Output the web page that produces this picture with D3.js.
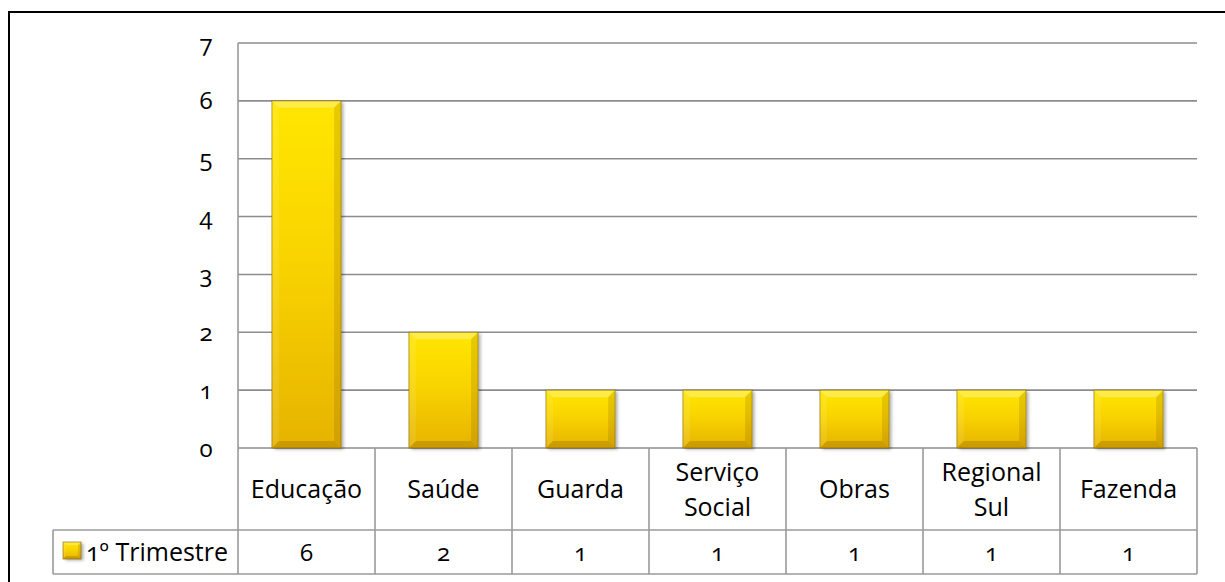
<!DOCTYPE html>
<html>
<head>
<meta charset="utf-8">
<script src="https://cdn.jsdelivr.net/npm/d3@7"></script>
<style>
  html, body { margin: 0; padding: 0; background: #fff; }
  svg { display: block; }
  text { font-family: "Open Sans", "Noto Sans", sans-serif; fill: #000; font-variant-numeric: oldstyle-nums; font-feature-settings: "onum" 1; }
</style>
</head>
<body>
<script>
const categories = ["Educação", "Saúde", "Guarda", "Serviço Social", "Obras", "Regional Sul", "Fazenda"];
const values = [6, 2, 1, 1, 1, 1, 1];
const seriesName = "1º Trimestre";
const yTicks = [0, 1, 2, 3, 4, 5, 6, 7];

(function () {
const W = 1225, H = 582;
const svg = d3.select("body").append("svg").attr("width", W).attr("height", H);

const defs = svg.append("defs");
const grad = defs.append("linearGradient").attr("id", "gold").attr("x1", 0).attr("y1", 0).attr("x2", 0).attr("y2", 1);
grad.append("stop").attr("offset", "0%").attr("stop-color", "#FFE600");
grad.append("stop").attr("offset", "45%").attr("stop-color", "#F9D400");
grad.append("stop").attr("offset", "100%").attr("stop-color", "#E6B300");
const shadow = defs.append("filter").attr("id", "shadow").attr("x", "-20%").attr("y", "-20%").attr("width", "150%").attr("height", "150%");
shadow.append("feDropShadow").attr("dx", 2.5).attr("dy", 1.5).attr("stdDeviation", 1.8).attr("flood-color", "#000").attr("flood-opacity", 0.3);

// outer frame
svg.append("rect").attr("x", 9).attr("y", 12).attr("width", 1240).attr("height", 620)
  .attr("fill", "none").attr("stroke", "#000").attr("stroke-width", 2);

const pLeft = 238, pRight = 1197, pTop = 43, base = 448;
const rowMid = 530, rowBot = 574, legendLeft = 53;

const x = d3.scaleBand().domain(categories).range([pLeft, pRight]).paddingInner(0).paddingOuter(0);
const y = d3.scaleLinear().domain([0, 7]).range([base, pTop]);

// gridlines
svg.append("g").selectAll("line").data(yTicks).join("line")
  .attr("x1", pLeft).attr("x2", pRight)
  .attr("y1", d => y(d)).attr("y2", d => y(d))
  .attr("stroke", "#8c8c8c").attr("stroke-width", 1.6);

// y tick labels
svg.append("g").selectAll("text").data(yTicks).join("text")
  .attr("x", 206).attr("y", d => y(d)).attr("dy", "0.36em")
  .attr("text-anchor", "middle").attr("font-size", 24).text(d => d);

// bevelled bar helper
function bevelBar(g, bx, by, bw, bh, bev) {
  g.append("rect").attr("x", bx).attr("y", by).attr("width", bw).attr("height", bh)
    .attr("fill", "url(#gold)").attr("filter", "url(#shadow)");
  const e = Math.min(bev, bw / 2, bh / 2);
  const poly = (pts, fill) => g.append("polygon").attr("points", pts.map(p => p.join(",")).join(" ")).attr("fill", fill);
  poly([[bx, by], [bx + bw, by], [bx + bw - e, by + e], [bx + e, by + e]], "rgba(255,255,255,0.28)");
  poly([[bx, by], [bx + e, by + e], [bx + e, by + bh - e], [bx, by + bh]], "rgba(255,255,255,0.10)");
  poly([[bx + bw, by], [bx + bw, by + bh], [bx + bw - e, by + bh - e], [bx + bw - e, by + e]], "rgba(120,80,0,0.18)");
  poly([[bx, by + bh], [bx + e, by + bh - e], [bx + bw - e, by + bh - e], [bx + bw, by + bh]], "rgba(120,80,0,0.25)");
  g.append("rect").attr("x", bx).attr("y", by).attr("width", bw).attr("height", bh)
    .attr("fill", "none").attr("stroke", "#7a5a00").attr("stroke-opacity", 0.55).attr("stroke-width", 1);
}

const barW = x.bandwidth() * 0.505;
const bars = svg.append("g");
categories.forEach((c, i) => {
  const g = bars.append("g");
  const bx = x(c) + (x.bandwidth() - barW) / 2;
  bevelBar(g, bx, y(values[i]), barW, y(0) - y(values[i]), 7);
});

// data table lines
const tbl = svg.append("g").attr("stroke", "#9a9a9a").attr("stroke-width", 1.6).attr("fill", "none");
tbl.append("line").attr("x1", pLeft).attr("x2", pLeft).attr("y1", pTop).attr("y2", rowBot);
categories.forEach(c => {
  tbl.append("line").attr("x1", x(c) + x.bandwidth()).attr("x2", x(c) + x.bandwidth()).attr("y1", base).attr("y2", rowBot);
});
tbl.append("line").attr("x1", legendLeft).attr("x2", pRight).attr("y1", rowMid).attr("y2", rowMid);
tbl.append("line").attr("x1", legendLeft).attr("x2", pRight).attr("y1", rowBot).attr("y2", rowBot);
tbl.append("line").attr("x1", legendLeft).attr("x2", legendLeft).attr("y1", rowMid).attr("y2", rowBot);

// category labels
const catG = svg.append("g");
categories.forEach(c => {
  const lines = c.split(" ");
  const cx = x(c) + x.bandwidth() / 2;
  const lh = 35;
  const mid = (base + rowMid) / 2;
  const t = catG.append("text").attr("text-anchor", "middle").attr("font-size", 25);
  lines.forEach((ln, k) => {
    t.append("tspan").attr("x", cx)
      .attr("y", mid + (k - (lines.length - 1) / 2) * lh).attr("dy", "0.36em").text(ln);
  });
});

// value row
svg.append("g").selectAll("text").data(categories).join("text")
  .attr("x", d => x(d) + x.bandwidth() / 2).attr("y", (rowMid + rowBot) / 2).attr("dy", "0.36em")
  .attr("text-anchor", "middle").attr("font-size", 24).text((d, i) => values[i]);

// legend key
const lg = svg.append("g");
bevelBar(lg, 63, 542, 18, 17, 3);
lg.append("text").attr("x", 86).attr("y", (rowMid + rowBot) / 2).attr("dy", "0.36em")
  .attr("font-size", 25).text(seriesName);
})();
</script>
</body>
</html>
